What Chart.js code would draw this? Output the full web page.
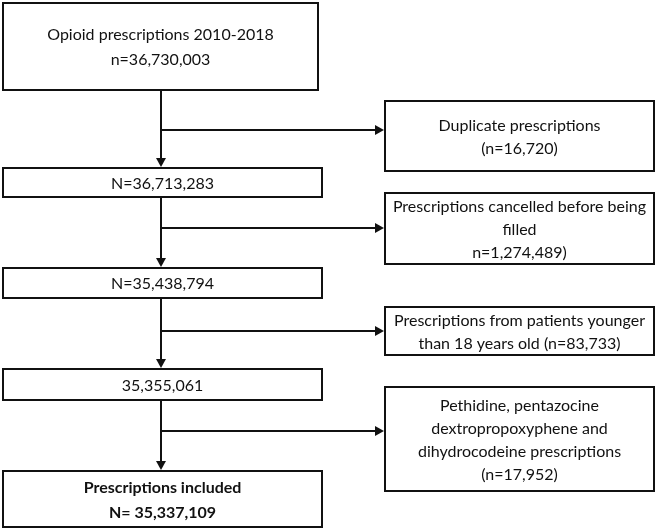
<!DOCTYPE html>
<html>
<head>
<meta charset="utf-8">
<script src="https://cdn.jsdelivr.net/npm/chart.js@4/dist/chart.umd.min.js"></script>
<style>
  html, body { margin: 0; padding: 0; background: #ffffff; }
  #wrap { width: 657px; height: 530px; position: relative; }
</style>
</head>
<body>
<div id="wrap"><canvas id="c"></canvas></div>
<script>
// ---- Data (text of the flow chart) ----
const mainSteps = [
  ['Opioid prescriptions 2010-2018', 'n=36,730,003'],
  ['N=36,713,283'],
  ['N=35,438,794'],
  ['35,355,061'],
  ['Prescriptions included', 'N= 35,337,109']
];
const exclusions = [
  ['Duplicate prescriptions', '(n=16,720)'],
  ['Prescriptions cancelled before being', 'filled', 'n=1,274,489)'],
  ['Prescriptions from patients younger', 'than 18 years old (n=83,733)'],
  ['Pethidine, pentazocine', 'dextropropoxyphene and', 'dihydrocodeine prescriptions', '(n=17,952)']
];
const boldSteps = [false, false, false, false, true];

// ---- Layout (in scale units) ----
const mainBoxes = [
  { x0: 3, x1: 318, y0: 3, y1: 90 },
  { x0: 3, x1: 322, y0: 168, y1: 197 },
  { x0: 3, x1: 322, y0: 268, y1: 298 },
  { x0: 3, x1: 322, y0: 369, y1: 400 },
  { x0: 3, x1: 322, y0: 471, y1: 527 }
];
const exclBoxes = [
  { x0: 385, x1: 654, y0: 101, y1: 171 },
  { x0: 385, x1: 654, y0: 193, y1: 264 },
  { x0: 385, x1: 654, y0: 307, y1: 355 },
  { x0: 385, x1: 654, y0: 387, y1: 491 }
];
const branchY = [130, 228, 331, 431];
const spineX = 161;

const FONT = 'Lato, "Open Sans", sans-serif';
const FONT_SIZE = 16;

const flowPlugin = {
  id: 'flow',
  beforeDraw(chart) {
    const c = chart.ctx;
    c.save();
    c.fillStyle = '#ffffff';
    c.fillRect(0, 0, chart.width, chart.height);
    c.restore();
  },
  afterDraw(chart) {
    const c = chart.ctx;
    const xs = chart.scales.x, ys = chart.scales.y;
    const px = v => xs.getPixelForValue(v);
    const py = v => ys.getPixelForValue(v);
    c.save();
    c.strokeStyle = '#111111';
    c.fillStyle = '#111111';
    c.lineWidth = 2;

    function box(b) {
      const x0 = px(b.x0), x1 = px(b.x1), y0 = py(b.y0), y1 = py(b.y1);
      c.strokeRect(x0, y0, x1 - x0, y1 - y0);
    }
    function text(b, lines, spacing, bold) {
      const cx = (px(b.x0) + px(b.x1)) / 2;
      const cy = (py(b.y0) + py(b.y1)) / 2 + 1;
      c.font = (bold ? 'bold ' : '') + FONT_SIZE + 'px ' + FONT;
      c.textAlign = 'center';
      c.textBaseline = 'middle';
      const n = lines.length;
      lines.forEach((t, i) => {
        c.fillText(t, cx, cy + (i - (n - 1) / 2) * spacing);
      });
    }
    function line(xa, ya, xb, yb) {
      c.beginPath();
      c.moveTo(px(xa), py(ya));
      c.lineTo(px(xb), py(yb));
      c.stroke();
    }
    function arrowDown(x, y) {
      const X = px(x), Y = py(y);
      c.beginPath();
      c.moveTo(X, Y);
      c.lineTo(X - 5, Y - 9);
      c.lineTo(X + 5, Y - 9);
      c.closePath();
      c.fill();
    }
    function arrowRight(x, y) {
      const X = px(x), Y = py(y);
      c.beginPath();
      c.moveTo(X, Y);
      c.lineTo(X - 9, Y - 5);
      c.lineTo(X - 9, Y + 5);
      c.closePath();
      c.fill();
    }

    // boxes
    mainBoxes.forEach((b, i) => { box(b); text(b, mainSteps[i], 25, boldSteps[i]); });
    exclBoxes.forEach((b, i) => { box(b); text(b, exclusions[i], 23, false); });

    // connectors
    for (let i = 0; i < mainBoxes.length - 1; i++) {
      const yTop = mainBoxes[i].y1;
      const yBot = mainBoxes[i + 1].y0;
      line(spineX, yTop, spineX, yBot - 8);
      arrowDown(spineX, yBot - 1);
      line(spineX, branchY[i], exclBoxes[i].x0 - 8, branchY[i]);
      arrowRight(exclBoxes[i].x0 - 1, branchY[i]);
    }
    c.restore();
  }
};

new Chart(document.getElementById('c'), {
  type: 'scatter',
  data: { datasets: [{ data: [], showLine: false }] },
  options: {
    responsive: true,
    maintainAspectRatio: false,
    animation: false,
    layout: { padding: 0 },
    plugins: { legend: { display: false }, tooltip: { enabled: false } },
    scales: {
      x: { type: 'linear', min: 0, max: 657, display: false },
      y: { type: 'linear', min: 0, max: 530, reverse: true, display: false }
    }
  },
  plugins: [flowPlugin]
});
</script>
</body>
</html>
